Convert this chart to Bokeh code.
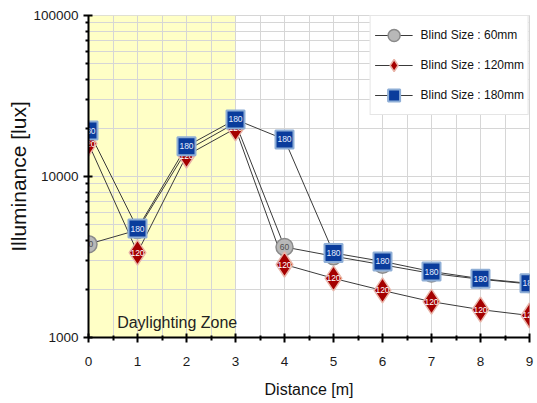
from bokeh.plotting import figure
from bokeh.models import (Range1d, FixedTicker, BoxAnnotation, Label, Legend, LegendItem,
                          ColumnDataSource, NumeralTickFormatter)
from bokeh.embed import file_html
from bokeh.resources import INLINE
from bokeh.core.properties import value

# ---- data ----
distance = [0, 1, 2, 3, 4, 5, 6, 7, 8, 9]
lux_60 = [3800, 4650, 14500, 21500, 3650, 3200, 2830, 2500, 2300, 2150]
lux_120 = [16000, 3370, 13500, 19900, 2840, 2330, 1960, 1670, 1490, 1370]
lux_180 = [19300, 4750, 15400, 22600, 17000, 3350, 2970, 2570, 2320, 2170]
series_labels = ["Blind Size : 60mm", "Blind Size : 120mm", "Blind Size : 180mm"]
marker_text = ["60", "120", "180"]
y_ticks = [1000, 10000, 100000]
y_minor = [m * 10 ** k for k in (3, 4) for m in range(2, 10)]
x_ticks = distance
x_minor = [i + 0.5 for i in range(9)]
zone_start, zone_end = 0, 3
zone_label = "Daylighting Zone"
x_title = "Distance [m]"
y_title = "Illuminance [lux]"

FONT = "Liberation Sans"
GRID = "#d6d6d6"

p = figure(width=537, height=403, x_range=Range1d(0, 9), y_range=Range1d(1000, 100000),
           y_axis_type="log", output_backend="svg", toolbar_location=None,
           min_border_left=88, min_border_right=8, min_border_top=15, min_border_bottom=66,
           outline_line_color=GRID, background_fill_color="white", border_fill_color="white")

# ticks / grid
xt = FixedTicker(ticks=x_ticks, minor_ticks=x_minor)
yt = FixedTicker(ticks=y_ticks, minor_ticks=y_minor)
p.xaxis.ticker = xt
p.xgrid.ticker = xt
p.yaxis.ticker = yt
p.ygrid.ticker = yt
for g in (p.xgrid, p.ygrid):
    g.grid_line_color = GRID
    g.minor_grid_line_color = GRID
    g.grid_line_width = 1
    g.minor_grid_line_width = 1

p.yaxis.formatter = NumeralTickFormatter(format="0")
for ax in (p.xaxis, p.yaxis):
    ax.axis_line_width = 2
    ax.axis_line_color = "black"
    ax.major_tick_line_width = 2
    ax.major_tick_line_color = "black"
    ax.minor_tick_line_width = 2
    ax.minor_tick_line_color = "black"
    ax.major_tick_in = 4
    ax.major_tick_out = 5
    ax.major_label_text_font = FONT
    ax.major_label_text_font_size = "13.5px"
    ax.major_label_text_color = "#1a1a1a"
    ax.axis_label_text_font = FONT
    ax.axis_label_text_font_style = "normal"
    ax.axis_label_text_color = "#111111"
p.xaxis.minor_tick_in = 2
p.xaxis.minor_tick_out = 3
p.yaxis.minor_tick_in = 0
p.yaxis.minor_tick_out = 3
p.yaxis.major_label_standoff = 5
p.xaxis.major_label_standoff = 14
p.xaxis.axis_label = x_title
p.xaxis.axis_label_text_font_size = "16px"
p.xaxis.axis_label_standoff = 12
p.yaxis.axis_label = y_title
p.yaxis.axis_label_text_font_size = "21px"
p.yaxis.axis_label_standoff = 0

# daylighting zone
p.add_layout(BoxAnnotation(left=zone_start, right=zone_end, fill_color="#ffffc6", fill_alpha=1,
                           line_color=None, level="image"))

src = ColumnDataSource(dict(x=distance, y60=lux_60, y120=lux_120, y180=lux_180,
                            t60=[marker_text[0]] * len(distance),
                            t120=[marker_text[1]] * len(distance),
                            t180=[marker_text[2]] * len(distance)))

LINE = "#3a3a3a"
l60 = p.line("x", "y60", source=src, line_color=LINE, line_width=1)
l120 = p.line("x", "y120", source=src, line_color=LINE, line_width=1)
l180 = p.line("x", "y180", source=src, line_color=LINE, line_width=1)

TXT = dict(text_font=value(FONT), text_font_size="8.5px", text_align="center",
           text_baseline="middle")
m60 = p.scatter("x", "y60", source=src, marker="circle", size=17, fill_color="#b8b8b8",
                line_color="#8a8a8a", line_width=1.5)
p.text("x", "y60", text="t60", source=src, text_color="#505050", **TXT)
m120 = p.scatter("x", "y120", source=src, marker="diamond", size=25, fill_color="#a50000",
                 line_color="#e8b4a8", line_width=1.5)
p.text("x", "y120", text="t120", source=src, text_color="white", **TXT)
m180 = p.scatter("x", "y180", source=src, marker="square", size=18, fill_color="#0a3c9c",
                 line_color="#8eaed6", line_width=2)
p.text("x", "y180", text="t180", source=src, text_color="#e4ecff", **TXT)

legend = Legend(items=[LegendItem(label=series_labels[0], renderers=[l60, m60]),
                       LegendItem(label=series_labels[1], renderers=[l120, m120]),
                       LegendItem(label=series_labels[2], renderers=[l180, m180])],
                location="top_right", margin=0, padding=4, spacing=-1,
                glyph_height=30, glyph_width=38, label_standoff=8,
                label_text_font=FONT, label_text_font_size="12px", label_text_color="#111111",
                border_line_color="#cccccc", background_fill_color="white", background_fill_alpha=1)
p.add_layout(legend)

p.add_layout(Label(x=1.81, y=15, y_units="screen", text=zone_label, text_font=FONT,
                   text_font_size="16px", text_color="#222222", text_align="center",
                   text_baseline="alphabetic"))

open("out.html", "w").write(file_html(p, INLINE))
